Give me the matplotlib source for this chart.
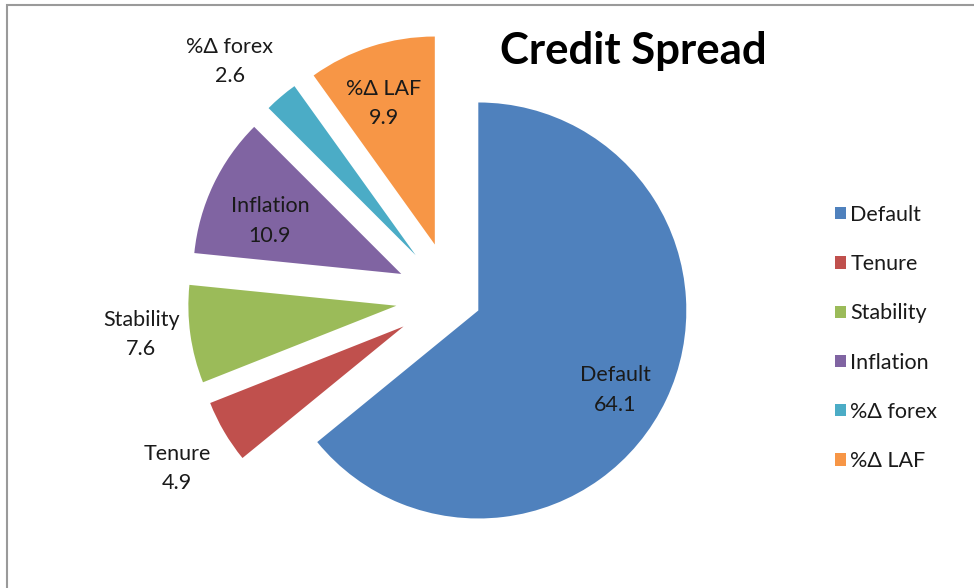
import matplotlib.pyplot as plt
import matplotlib.patches as mpatches
import numpy as np

plt.rcParams['font.family'] = ['Lato', 'DejaVu Sans']

# data
categories = ['Default', 'Tenure', 'Stability', 'Inflation', '%Δ forex', '%Δ LAF']
values = [64.1, 4.9, 7.6, 10.9, 2.6, 9.9]
colors = ['#4F81BD', '#C0504D', '#9BBB59', '#8064A2', '#4BACC6', '#F79646']
explode = [0.14, 0.27, 0.27, 0.27, 0.27, 0.27]
# data label placement: radius (in pie radii, from the exploded centre) and angle nudge
label_dist = [0.76, 1.285, 1.235, 0.68, 1.29, 0.72]
label_shift = [-4.7, 1.7, -1.5, 3.5, 3.5, 2.0]

W, H = 974, 588
R = 208.0          # pie radius in pixels
cx, cy = 452, 298  # pie centre in pixels (from top-left)

fig = plt.figure(figsize=(W / 100, H / 100), dpi=100)
ax = fig.add_axes([0, 0, 1, 1])

wedges, _ = ax.pie(values, colors=colors, explode=explode, startangle=90,
                   counterclock=False, radius=1.0,
                   wedgeprops=dict(linewidth=0))

ax.set_xlim(-cx / R, (W - cx) / R)
ax.set_ylim(-(H - cy) / R, cy / R)
ax.set_aspect('auto')
ax.axis('off')

for w, name, v, ex, d, s in zip(wedges, categories, values, explode,
                                label_dist, label_shift):
    mid = np.deg2rad((w.theta1 + w.theta2) / 2)
    lab = mid + np.deg2rad(s)
    x = ex * np.cos(mid) + d * np.cos(lab)
    y = ex * np.sin(mid) + d * np.sin(lab)
    ax.text(x, y, f'{name}\n{v}', ha='center', va='center', fontsize=15.5,
            color='#1a1a1a', linespacing=1.6)

ax.text((633 - cx) / R, (cy - 64) / R, 'Credit Spread', ha='center', va='baseline',
        fontsize=31.5, fontweight='bold', color='black')

leg = ax.legend(wedges, categories, loc='center left',
                bbox_to_anchor=(816 / W, 1 - 338 / H),
                bbox_transform=fig.transFigure, frameon=False,
                fontsize=15.5, handlelength=0.5, handleheight=0.5,
                handletextpad=0.2, labelspacing=1.36)
for t in leg.get_texts():
    t.set_color('#1a1a1a')

# chart border
fig.patches.append(mpatches.Rectangle((7 / W, -0.01), 1.0, 1 - 5 / H + 0.01,
                                      transform=fig.transFigure, fill=False,
                                      edgecolor='#9a9a9a', linewidth=1.5))

fig.savefig('out.png', dpi=100)
